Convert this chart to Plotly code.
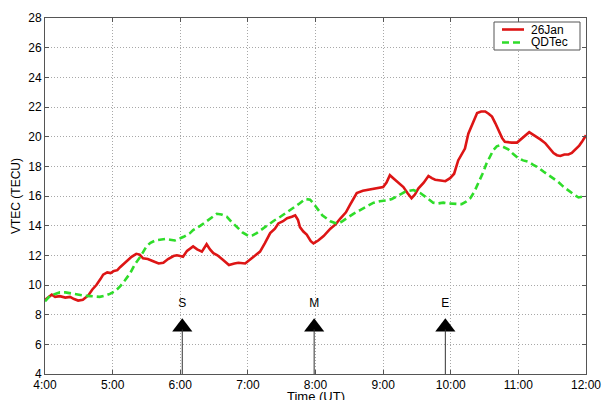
import plotly.graph_objects as go

# VTEC on 26 January versus the quiet-day reference (QDTec), hours UT
jan26_time = [4.00, 4.05, 4.10, 4.15, 4.22, 4.30, 4.37, 4.43, 4.49, 4.56, 4.64, 4.70, 4.76, 4.82,
              4.86, 4.92, 4.97, 5.02, 5.07, 5.11, 5.17, 5.22, 5.28, 5.35, 5.40, 5.45, 5.52, 5.60,
              5.68, 5.75, 5.82, 5.90, 5.95, 6.00, 6.04, 6.10, 6.19, 6.25, 6.32, 6.39, 6.44, 6.49,
              6.55, 6.63, 6.72, 6.80, 6.86, 6.96, 7.06, 7.18, 7.25, 7.33, 7.40, 7.45, 7.52, 7.58,
              7.65, 7.70, 7.74, 7.77, 7.82, 7.87, 7.93, 7.97, 8.04, 8.12, 8.22, 8.30, 8.37, 8.45,
              8.51, 8.56, 8.61, 8.70, 8.76, 8.85, 8.91, 9.00, 9.05, 9.10, 9.15, 9.20, 9.25, 9.30,
              9.36, 9.42, 9.47, 9.52, 9.60, 9.67, 9.72, 9.77, 9.85, 9.92, 9.99, 10.05, 10.11,
              10.14, 10.21, 10.26, 10.33, 10.39, 10.45, 10.51, 10.56, 10.61, 10.66, 10.71, 10.76,
              10.80, 10.85, 10.90, 10.98, 11.03, 11.08, 11.16, 11.21, 11.27, 11.33, 11.40, 11.46,
              11.52, 11.57, 11.62, 11.68, 11.74, 11.79, 11.84, 11.90, 11.94, 12.00]
jan26_vtec = [9.0, 9.15, 9.35, 9.2, 9.25, 9.15, 9.2, 9.05, 8.95, 9.0, 9.3, 9.7, 10.0, 10.4,
              10.7, 10.85, 10.8, 10.95, 11.0, 11.2, 11.45, 11.6, 11.9, 12.1, 12.05, 11.8, 11.75, 11.6,
              11.45, 11.5, 11.75, 11.95, 12.0, 11.95, 11.9, 12.3, 12.6, 12.4, 12.25, 12.75, 12.4, 12.15,
              12.0, 11.7, 11.35, 11.45, 11.5, 11.45, 11.8, 12.25, 12.8, 13.5, 13.8, 14.15, 14.3, 14.5,
              14.6, 14.7, 14.4, 13.9, 13.6, 13.4, 12.95, 12.8, 13.0, 13.3, 13.8, 14.1, 14.5, 14.9,
              15.4, 15.8, 16.2, 16.35, 16.4, 16.5, 16.5, 16.6, 16.9, 17.4, 17.2, 17.0, 16.85, 16.6,
              16.2, 15.85, 16.1, 16.5, 16.9, 17.35, 17.2, 17.1, 17.05, 17.0, 17.2, 17.5, 18.4,
              18.65, 19.2, 20.2, 20.9, 21.6, 21.7, 21.7, 21.55, 21.35, 20.9, 20.35, 19.9,
              19.65, 19.6, 19.6, 19.6, 19.8, 20.0, 20.3, 20.15, 20.0, 19.8, 19.55, 19.2,
              18.9, 18.75, 18.7, 18.8, 18.8, 18.9, 19.1, 19.4, 19.65, 20.1]

qdtec_time = [4.00, 4.07, 4.15, 4.22, 4.30, 4.37, 4.45, 4.52, 4.60, 4.67, 4.75, 4.81, 4.90, 4.96,
              5.04, 5.11, 5.18, 5.26, 5.33, 5.41, 5.50, 5.56, 5.63, 5.70, 5.78, 5.85, 5.92, 6.00,
              6.05, 6.145, 6.19, 6.30, 6.39, 6.47, 6.54, 6.61, 6.69, 6.76, 6.84, 6.92, 7.01, 7.07,
              7.13, 7.22, 7.30, 7.39, 7.48, 7.56, 7.65, 7.75, 7.85, 7.92, 7.97, 8.03, 8.10, 8.22,
              8.31, 8.38, 8.46, 8.56, 8.66, 8.76, 8.86, 8.95, 9.05, 9.13, 9.20, 9.27, 9.33, 9.45,
              9.55, 9.65, 9.74, 9.81, 9.89, 9.96, 10.04, 10.10, 10.16, 10.22, 10.29, 10.35, 10.41,
              10.47, 10.53, 10.58, 10.63, 10.68, 10.72, 10.78, 10.85, 10.92, 11.00, 11.07, 11.15,
              11.22, 11.30, 11.37, 11.45, 11.52, 11.59, 11.66, 11.74, 11.82, 11.89, 11.95, 12.00]
qdtec_vtec = [8.9, 9.25, 9.4, 9.5, 9.5, 9.45, 9.35, 9.3, 9.27, 9.25, 9.2, 9.2, 9.3, 9.4,
              9.6, 9.9, 10.3, 10.8, 11.4, 11.9, 12.6, 12.85, 13.0, 13.05, 13.1, 13.05, 13.0, 13.15,
              13.25, 13.5, 13.7, 14.0, 14.3, 14.6, 14.8, 14.75, 14.6, 14.25, 13.9, 13.55, 13.3, 13.35,
              13.5, 13.8, 14.05, 14.35, 14.6, 14.85, 15.1, 15.45, 15.8, 15.75, 15.5, 15.1, 14.7, 14.3,
              14.15, 14.25, 14.5, 14.8, 15.05, 15.3, 15.55, 15.65, 15.7, 15.8, 15.95, 16.15, 16.3, 16.4,
              16.2, 15.85, 15.55, 15.5, 15.55, 15.5, 15.5, 15.45, 15.45, 15.6, 15.85, 16.3, 16.85,
              17.5, 18.2, 18.7, 19.1, 19.35, 19.4, 19.3, 19.15, 18.85, 18.55, 18.4, 18.3,
              18.1, 17.9, 17.65, 17.4, 17.2, 16.95, 16.65, 16.35, 16.1, 15.9, 15.95, 16.0]

series_names = ["26Jan", "QDTec"]

# Event markers (start, maximum, end) shown as upward arrows
event_time = [6.03, 7.98, 9.92]
event_label = ["S", "M", "E"]
arrow_tip = 8.0
label_level = 8.72

x_ticks = [4, 5, 6, 7, 8, 9, 10, 11, 12]
x_tick_text = ["4:00", "5:00", "6:00", "7:00", "8:00", "9:00", "10:00", "11:00", "12:00"]
y_ticks = list(range(4, 29, 2))

Y_MIN, Y_MAX = 4, 28
W, H = 603, 400
M_L, M_R, M_T, M_B = 45, 17, 18, 26
PLOT_W = W - M_L - M_R
PLOT_H = H - M_T - M_B
px_per_unit = PLOT_H / (Y_MAX - Y_MIN)
tri_size = 17.5
# triangle-up symbol: apex sits r*sqrt(2) above its centre
head_center = [arrow_tip - (tri_size / 2) * 2 ** 0.5 / px_per_unit for _ in event_time]

FONT = "Liberation Sans, Arial, sans-serif"
RED = "#dd1515"
GREEN = "#2fdc2a"
LINE_W = 2.6
GREEN_DASH = "7px,4px"


def px_x(px):
    """pixel column -> paper x"""
    return (px - M_L) / PLOT_W


def px_y(py):
    """pixel row -> paper y"""
    return (H - M_B - py) / PLOT_H


fig = go.Figure()

fig.add_trace(go.Scatter(
    x=jan26_time, y=jan26_vtec, mode="lines", name=series_names[0],
    line=dict(color=RED, width=LINE_W), showlegend=False,
))
fig.add_trace(go.Scatter(
    x=qdtec_time, y=qdtec_vtec, mode="lines", name=series_names[1],
    line=dict(color=GREEN, width=LINE_W, dash=GREEN_DASH), showlegend=False,
))

# arrow shafts
for t in event_time:
    fig.add_shape(type="line", x0=t, x1=t, y0=Y_MIN, y1=arrow_tip - 1.0,
                  xref="x", yref="y", line=dict(color="#333333", width=1))

# arrow heads
fig.add_trace(go.Scatter(
    x=event_time, y=head_center, mode="markers", showlegend=False, hoverinfo="skip",
    marker=dict(symbol="triangle-up", size=tri_size, color="black", line=dict(width=0)),
))
# event letters
fig.add_trace(go.Scatter(
    x=event_time, y=[label_level] * len(event_time), mode="text", text=event_label,
    textposition="middle center", showlegend=False, hoverinfo="skip",
    textfont=dict(family=FONT, size=12, color="black"),
))

# compact legend box in the upper-right corner
fig.add_shape(type="rect", xref="paper", yref="paper",
              x0=px_x(494), x1=px_x(580), y0=px_y(50), y1=px_y(22),
              line=dict(color="#555555", width=1), fillcolor="white", layer="above")
legend_rows = [29.5, 42.5]
legend_styles = [dict(color=RED, width=LINE_W), dict(color=GREEN, width=LINE_W, dash=GREEN_DASH)]
for name, row, style in zip(series_names, legend_rows, legend_styles):
    fig.add_shape(type="line", xref="paper", yref="paper",
                  x0=px_x(502), x1=px_x(524), y0=px_y(row), y1=px_y(row),
                  line=style, layer="above")
    fig.add_annotation(text=name, xref="paper", yref="paper", x=px_x(530), y=px_y(row),
                       xanchor="left", yanchor="middle", showarrow=False, borderpad=0,
                       font=dict(family=FONT, size=12, color="black"))

axis_common = dict(
    showline=True, linecolor="#555555", linewidth=1, mirror="ticks",
    ticks="inside", ticklen=4, tickcolor="#555555",
    showgrid=True, gridcolor="#a8a8a8", gridwidth=1, griddash="1px,2px",
    zeroline=False, automargin=False,
    tickfont=dict(family=FONT, size=12, color="black"),
)

fig.update_xaxes(range=[4, 12], tickvals=x_ticks, ticktext=x_tick_text, **axis_common)
fig.update_yaxes(range=[Y_MIN, Y_MAX], tickvals=y_ticks, **axis_common)

fig.add_annotation(text="Time (UT)", xref="paper", yref="paper", x=0.5, y=px_y(388),
                   xanchor="center", yanchor="top", showarrow=False, borderpad=0,
                   font=dict(family=FONT, size=13, color="black"))
fig.add_annotation(text="VTEC (TECU)", xref="paper", yref="paper", x=px_x(16), y=0.5,
                   xanchor="center", yanchor="middle", textangle=-90, showarrow=False,
                   font=dict(family=FONT, size=12, color="black"))

fig.update_layout(
    width=W, height=H,
    margin=dict(l=M_L, r=M_R, t=M_T, b=M_B),
    paper_bgcolor="white", plot_bgcolor="white",
    font=dict(family=FONT, size=12, color="black"),
    showlegend=False,
)

fig.write_html("out.html")
